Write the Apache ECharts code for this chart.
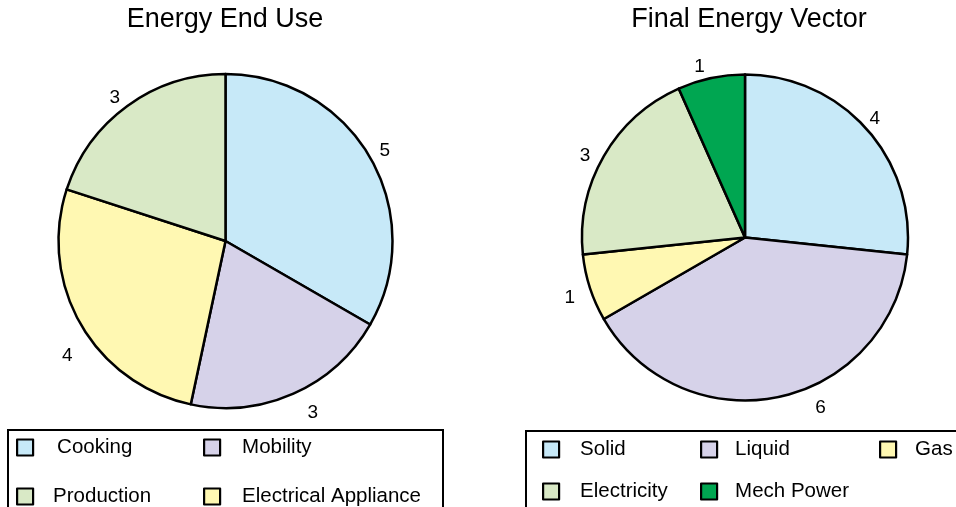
<!DOCTYPE html>
<html>
<head>
<meta charset="utf-8">
<script src="https://cdn.jsdelivr.net/npm/echarts@6/dist/echarts.min.js"></script>
<style>
  html, body { margin: 0; padding: 0; background: #ffffff; }
  #chart { width: 956px; height: 507px; }
</style>
</head>
<body>
<div id="chart"></div>
<script>
// Energy end use shares (clockwise from 12 o'clock)
const endUseNames = ['Cooking', 'Mobility', 'Electrical Appliance', 'Production'];
const endUseValues = [5, 3, 4, 3];

// Final energy vector shares (clockwise from 12 o'clock)
const vectorNames = ['Solid', 'Liquid', 'Gas', 'Electricity', 'Mech Power'];
const vectorValues = [4, 6, 1, 3, 1];

const titles = ['Energy End Use', 'Final Energy Vector'];

// Fill colours per category
const fills = {
  'Cooking': '#c7e9f8',
  'Mobility': '#d6d2e9',
  'Electrical Appliance': '#fff8b2',
  'Production': '#d9e9c6',
  'Solid': '#c7e9f8',
  'Liquid': '#d6d2e9',
  'Gas': '#fff8b2',
  'Electricity': '#d9e9c6',
  'Mech Power': '#00a651'
};

// Small label nudges so value labels sit clear of the slice edges
const labelNudge = {
  'Cooking': [-1, 0],
  'Mobility': [12, 1],
  'Electrical Appliance': [2, 20],
  'Production': [-2, 4],
  'Solid': [-4, 0],
  'Liquid': [38, -8],
  'Gas': [-4, 3],
  'Electricity': [-4, 6],
  'Mech Power': [-8, 3]
};

const FONT = '"Liberation Sans", Arial, Helvetica, sans-serif';

function pieSeries(names, values, center, r) {
  return {
    type: 'pie',
    center: center,
    radius: [0, r],
    startAngle: 90,
    clockwise: true,
    avoidLabelOverlap: false,
    animation: false,
    emphasis: { disabled: true },
    itemStyle: { borderColor: '#000000', borderWidth: 2.5 },
    label: { show: false },
    labelLine: { show: false },
    data: names.map((n, i) => ({ name: n, value: values[i], itemStyle: { color: fills[n] } }))
  };
}

// Transparent ring whose 'inside' labels place the values just outside the pie
function labelRing(names, values, center, rMid) {
  return {
    type: 'pie',
    center: center,
    radius: [rMid - 8, rMid + 8],
    startAngle: 90,
    clockwise: true,
    silent: true,
    animation: false,
    avoidLabelOverlap: false,
    emphasis: { disabled: true },
    itemStyle: { color: 'rgba(0,0,0,0)', borderWidth: 0 },
    label: {
      show: true,
      position: 'inside',
      formatter: '{c}',
      fontFamily: FONT,
      fontSize: 19,
      color: '#000000'
    },
    labelLine: { show: false },
    data: names.map((n, i) => {
      const d = labelNudge[n] || [0, 0];
      return { name: n, value: values[i], label: { offset: [d[0], d[1] + 2] } };
    })
  };
}

function legendColumn(items, left, top, gap) {
  return {
    orient: 'vertical',
    left: left,
    top: top,
    height: 90,
    padding: 0,
    itemWidth: 16,
    itemHeight: 16,
    itemGap: gap,
    icon: 'rect',
    selectedMode: false,
    itemStyle: { borderColor: '#000000', borderWidth: 2 },
    textStyle: { fontFamily: FONT, fontSize: 20.5, color: '#000000' },
    data: items.map(([name, pad]) => ({
      name: name,
      itemStyle: { color: fills[name], borderColor: '#000000', borderWidth: 2.2 },
      textStyle: { padding: [0, 0, 0, pad] }
    }))
  };
}

const chart = echarts.init(document.getElementById('chart'), null, { renderer: 'canvas' });

chart.setOption({
  backgroundColor: '#ffffff',
  animation: false,
  graphic: [
    { type: 'text', x: 225, y: 20, style: { text: titles[0], font: '27px ' + FONT, fill: '#000', align: 'center', verticalAlign: 'middle' } },
    { type: 'text', x: 749, y: 20, style: { text: titles[1], font: '27px ' + FONT, fill: '#000', align: 'center', verticalAlign: 'middle' } },
    { type: 'rect', shape: { x: 8, y: 430, width: 435, height: 78 }, style: { fill: 'none', stroke: '#000', lineWidth: 2 } },
    { type: 'rect', shape: { x: 526, y: 431, width: 440, height: 78 }, style: { fill: 'none', stroke: '#000', lineWidth: 2 } }
  ],
  legend: [
    legendColumn([[endUseNames[0], 19], [endUseNames[3], 15]], 16, 437, 28),
    legendColumn([[endUseNames[1], 17], [endUseNames[2], 17]], 203, 437, 28),
    legendColumn([[vectorNames[0], 16], [vectorNames[3], 16]], 542, 439, 21),
    legendColumn([[vectorNames[1], 13], [vectorNames[4], 13]], 700, 439, 21),
    legendColumn([[vectorNames[2], 14]], 879, 439, 21)
  ],
  series: [
    pieSeries(endUseNames, endUseValues, [225.5, 241], 167),
    pieSeries(vectorNames, vectorValues, [745, 237.5], 163),
    labelRing(endUseNames, endUseValues, [225.5, 241], 182),
    labelRing(vectorNames, vectorValues, [745, 237.5], 177)
  ]
});
</script>
</body>
</html>
